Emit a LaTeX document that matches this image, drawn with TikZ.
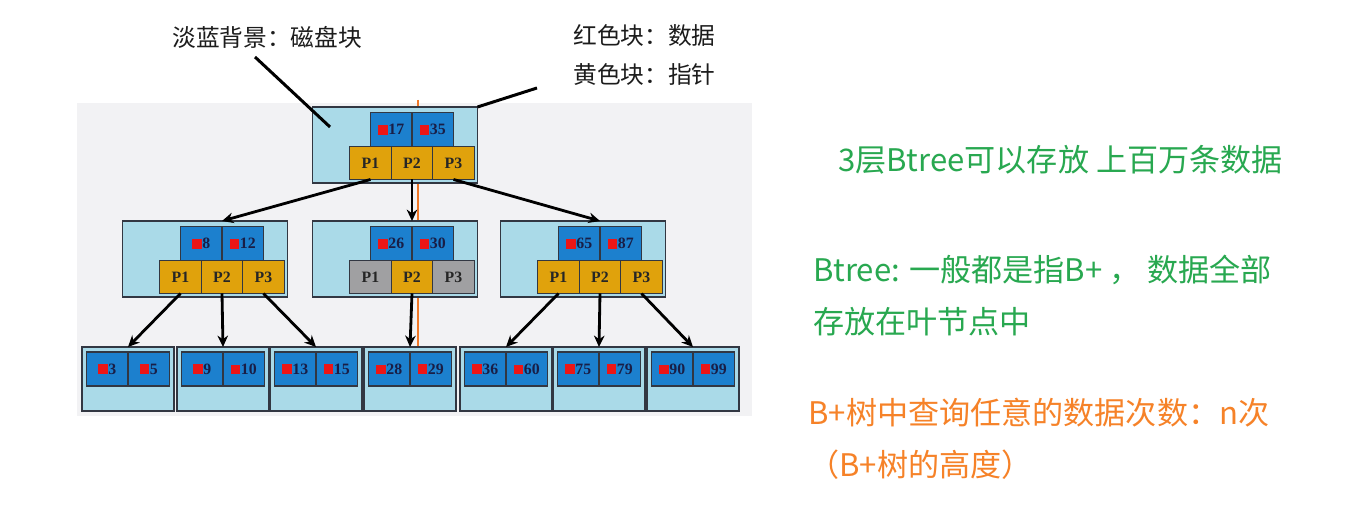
\documentclass[tikz,border=0pt]{standalone}
\usepackage{fontspec}
\setmainfont{Liberation Serif}
\newfontfamily\cjk{Noto Sans CJK SC}
\usepackage{tikz}
\usetikzlibrary{arrows.meta, positioning}

\definecolor{panelgray}{RGB}{242,242,244}
\definecolor{diskblue}{RGB}{170,218,232}
\definecolor{keyblue}{RGB}{28,128,206}
\definecolor{ptryellow}{RGB}{224,162,12}
\definecolor{ptrgray}{RGB}{160,160,162}
\definecolor{edgegray}{RGB}{50,55,66}
\definecolor{datred}{RGB}{236,22,22}
\definecolor{navytxt}{RGB}{25,30,70}
\definecolor{notegray}{RGB}{28,28,28}
\definecolor{tipgreencol}{RGB}{40,168,80}
\definecolor{tiporangecol}{RGB}{246,130,40}
\definecolor{tracecol}{RGB}{240,120,40}

\newcommand{\rdat}[1]{\textcolor{datred}{\rule{5.5pt}{5.5pt}}\hspace{0.3pt}#1}

\begin{document}
\begin{tikzpicture}[x=0.02cm, y=-0.02cm, >={Stealth[length=6.5pt,width=6pt]},
    disk/.style={draw=edgegray, line width=0.7pt, fill=diskblue, minimum width=3.3cm, minimum height=1.52cm, inner sep=0pt, outer sep=0pt},
    leaf/.style={disk, minimum width=1.84cm, minimum height=1.28cm},
    key/.style={draw=edgegray, line width=0.6pt, fill=keyblue, minimum width=0.83cm, minimum height=0.68cm, inner sep=0pt, outer sep=0pt, text=navytxt, font=\fontsize{9pt}{10pt}\selectfont\bfseries},
    ptr/.style={key, fill=ptryellow, minimum height=0.66cm, text=black!85},
    idle/.style={ptr, fill=ptrgray},
    edge/.style={->, line width=1.6pt},
    callout/.style={line width=1.7pt},
    note/.style={inner sep=0pt, text=notegray, font=\cjk\fontsize{13.5pt}{16pt}\selectfont},
    tipgreen/.style={inner sep=0pt, text=tipgreencol, font=\cjk\fontsize{17.7pt}{21pt}\selectfont},
    tiporange/.style={inner sep=0pt, text=tiporangecol, font=\cjk\fontsize{17.7pt}{21pt}\selectfont}]
    \useasboundingbox (0,0) rectangle (1347,519);
    \fill[white] (0,0) rectangle (1347,519);
    \fill[panelgray] (77,103) rectangle (752,416);
    % search path
    \draw[tracecol, line width=0.6pt] (418,100) -- (418,381);

    % root
    \node[disk] (root) at (395,145) {};
    \node[ptr] (rootP2) at (412,163) {P2};
    \node[ptr, left=0pt of rootP2] (rootP1) {P1};
    \node[ptr, right=0pt of rootP2] (rootP3) {P3};
    \node[key, anchor=south east] (rootK1) at (rootP2.north) {\rdat{17}};
    \node[key, anchor=south west] (rootK2) at (rootP2.north) {\rdat{35}};

    % second level
    \node[disk] (midA) at (205,259) {};
    \node[ptr] (midAP2) at (222,277) {P2};
    \node[ptr, left=0pt of midAP2] (midAP1) {P1};
    \node[ptr, right=0pt of midAP2] (midAP3) {P3};
    \node[key, anchor=south east] (midAK1) at (midAP2.north) {\rdat{8}};
    \node[key, anchor=south west] (midAK2) at (midAP2.north) {\rdat{12}};

    \node[disk] (midB) at (395,259) {};
    \node[ptr] (midBP2) at (412,277) {P2};
    \node[idle, left=0pt of midBP2] (midBP1) {P1};
    \node[idle, right=0pt of midBP2] (midBP3) {P3};
    \node[key, anchor=south east] (midBK1) at (midBP2.north) {\rdat{26}};
    \node[key, anchor=south west] (midBK2) at (midBP2.north) {\rdat{30}};

    \node[disk] (midC) at (583,259) {};
    \node[ptr] (midCP2) at (600,277) {P2};
    \node[ptr, left=0pt of midCP2] (midCP1) {P1};
    \node[ptr, right=0pt of midCP2] (midCP3) {P3};
    \node[key, anchor=south east] (midCK1) at (midCP2.north) {\rdat{65}};
    \node[key, anchor=south west] (midCK2) at (midCP2.north) {\rdat{87}};

    % leaves
    \node[leaf] (leafA) at (128,379) {};
    \node[key, anchor=north east] (leafAK1) at (128,352) {\rdat{3}};
    \node[key, anchor=north west] (leafAK2) at (128,352) {\rdat{5}};
    \node[leaf] (leafB) at (223,379) {};
    \node[key, anchor=north east] (leafBK1) at (223,352) {\rdat{9}};
    \node[key, anchor=north west] (leafBK2) at (223,352) {\rdat{10}};
    \node[leaf] (leafC) at (316,379) {};
    \node[key, anchor=north east] (leafCK1) at (316,352) {\rdat{13}};
    \node[key, anchor=north west] (leafCK2) at (316,352) {\rdat{15}};
    \node[leaf] (leafD) at (410,379) {};
    \node[key, anchor=north east] (leafDK1) at (410,352) {\rdat{28}};
    \node[key, anchor=north west] (leafDK2) at (410,352) {\rdat{29}};
    \node[leaf] (leafE) at (506,379) {};
    \node[key, anchor=north east] (leafEK1) at (506,352) {\rdat{36}};
    \node[key, anchor=north west] (leafEK2) at (506,352) {\rdat{60}};
    \node[leaf] (leafF) at (599,379) {};
    \node[key, anchor=north east] (leafFK1) at (599,352) {\rdat{75}};
    \node[key, anchor=north west] (leafFK2) at (599,352) {\rdat{79}};
    \node[leaf] (leafG) at (693,379) {};
    \node[key, anchor=north east] (leafGK1) at (693,352) {\rdat{90}};
    \node[key, anchor=north west] (leafGK2) at (693,352) {\rdat{99}};

    % pointers
    \draw[edge] (rootP1.south) -- (midAK1.north east |- midA.north);
    \draw[edge] (rootP2.south) -- (midBK1.north east |- midB.north);
    \draw[edge] (rootP3.south) -- (midCK1.north east |- midC.north);
    \draw[edge] (midAP1.south) -- (leafA.north);
    \draw[edge] (midAP2.south) -- (leafB.north);
    \draw[edge] (midAP3.south) -- (leafC.north);
    \draw[edge] (midBP2.south) -- (leafD.north);
    \draw[edge] (midCP1.south) -- (leafE.north);
    \draw[edge] (midCP2.south) -- (leafF.north);
    \draw[edge] (midCP3.south) -- (leafG.north);

    % legend
    \node[note, anchor=west] (diskNote) at (172,37) {淡蓝背景：磁盘块};
    \node[note, anchor=west] (redNote) at (573,35) {红色块：数据};
    \node[note, anchor=west] (yellowNote) at (573,74) {黄色块：指针};
    \coordinate (diskTail) at (255,57);
    \coordinate (diskTip) at (330,127);
    \coordinate (blockTail) at (537,88);
    \draw[callout] (diskTail) -- (diskTip);
    \draw[callout] (blockTail) -- (root.north east);

    % remarks
    \node[tipgreen, anchor=west] (layerTip) at (838,160) {3层Btree可以存放 上百万条数据};
    \node[tipgreen, anchor=west] (plusTip) at (813,270) {Btree: 一般都是指B+ ， 数据全部};
    \node[tipgreen, anchor=west] (leafTip) at (813,322) {存放在叶节点中};
    \node[tiporange, anchor=west] (countTip) at (808,413) {B+树中查询任意的数据次数：n次};
    \node[tiporange, anchor=west] (heightTip) at (808,465) {（B+树的高度）};
\end{tikzpicture}
\end{document}
